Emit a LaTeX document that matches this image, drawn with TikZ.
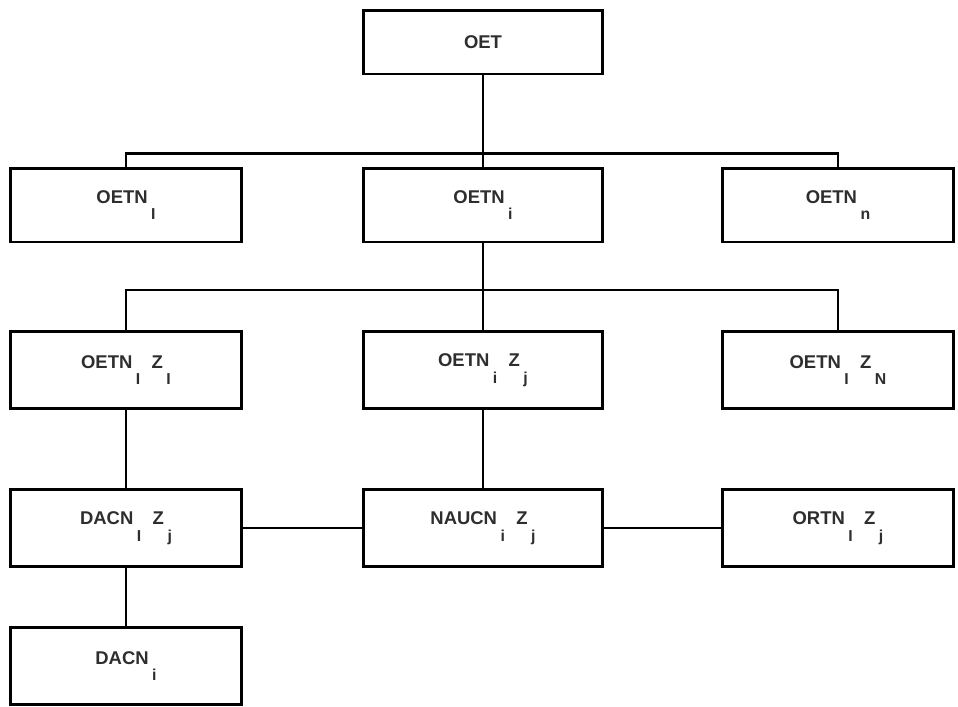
\documentclass[tikz,border=0pt]{standalone}
\usepackage{fontspec}
\setmainfont{Liberation Sans}
\newcommand{\lowsub}[1]{\kern2pt\raisebox{-9.6pt}{\fontsize{9}{10}\selectfont #1}}
\newcommand{\gapZ}{\kern6.5pt}
\begin{document}
\begin{tikzpicture}[x=0.02cm,y=-0.02cm,
  orgbox/.style={draw=black, line width=1.7pt, minimum width=4.62cm, minimum height=1.55cm,
    inner sep=0pt, text=black!82, font=\bfseries\fontsize{10.5}{12}\selectfont},
  link/.style={draw=black, line width=1.35pt}]
  \fill[white] (0,0) rectangle (958,707);
  \useasboundingbox (0,0) rectangle (958,707);
  % top
  \node[orgbox, minimum width=4.78cm, minimum height=1.28cm] (oet) at (483,42) {OET};
  % second level
  \node[orgbox, minimum height=1.48cm] (l2) at (126,205) {OETN\lowsub{I}};
  \node[orgbox, minimum width=4.78cm, minimum height=1.48cm] (m2) at (483,205) {OETN\lowsub{i}};
  \node[orgbox, minimum height=1.48cm] (r2) at (838,205) {OETN\lowsub{n}};
  % third level
  \node[orgbox] (l3) at (126,370) {OETN\lowsub{I}\gapZ Z\lowsub{I}};
  \node[orgbox, minimum width=4.78cm] (m3) at (483,370) {OETN\lowsub{i}\gapZ Z\lowsub{j}};
  \node[orgbox] (r3) at (838,370) {OETN\lowsub{I}\gapZ Z\lowsub{N}};
  % fourth level
  \node[orgbox] (l4) at (126,528) {DACN\lowsub{I}\gapZ Z\lowsub{j}};
  \node[orgbox, minimum width=4.78cm] (m4) at (483,528) {NAUCN\lowsub{i}\gapZ Z\lowsub{j}};
  \node[orgbox] (r4) at (838,528) {ORTN\lowsub{I}\gapZ Z\lowsub{j}};
  % fifth level
  \node[orgbox] (l5) at (126,666) {DACN\lowsub{i}};
  % connectors
  \draw[link] (oet.south) -- (m2.north);
  \draw[link] (l2.north) -- ++(0,-13) -| (r2.north);
  \draw[link] (m2.south) -- (m3.north);
  \draw[link] (l3.north) -- ++(0,-40) -| (r3.north);
  \draw[link] (l3.south) -- (l4.north);
  \draw[link] (m3.south) -- (m4.north);
  \draw[link] (l4.east) -- (m4.west);
  \draw[link] (m4.east) -- (r4.west);
  \draw[link] (l4.south) -- (l5.north);
\end{tikzpicture}
\end{document}
